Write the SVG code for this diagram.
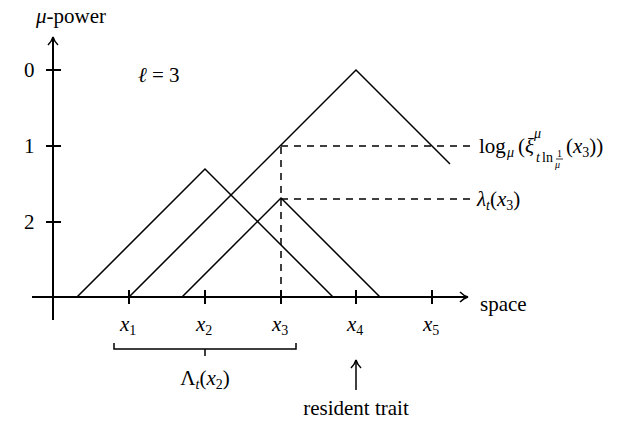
<svg xmlns="http://www.w3.org/2000/svg" width="619" height="423" viewBox="0 0 619 423">
<defs>
<marker id="arr" markerWidth="12" markerHeight="12" refX="10" refY="6" orient="auto" markerUnits="userSpaceOnUse">
<path d="M2,1 Q6,5 10,6 Q6,7 2,11" fill="none" stroke="#000" stroke-width="1.5"/>
</marker>
</defs>
<style>
text{font-family:"Liberation Serif","Times New Roman",serif;font-size:21px;fill:#000}
.i{font-style:italic}
.n{font-style:normal}
.s{font-size:14px}
.ss{font-size:10px}
.ax{stroke:#000;stroke-width:2;fill:none}
.ln{stroke:#000;stroke-width:1.5;fill:none}
.d{stroke:#000;stroke-width:1.5;fill:none;stroke-dasharray:7,6}
</style>
<g id="axes">
<line class="ax" x1="53" y1="320" x2="53" y2="37" marker-end="url(#arr)"/>
<line class="ax" x1="32" y1="297" x2="468" y2="297" marker-end="url(#arr)"/>
<path class="ax" d="M46,70 H61 M46,146 H61 M46,222 H61 M129,290 V304 M205,290 V304 M281,290 V304 M356,290 V304 M432,290 V304"/>
</g>
<g id="axis-labels">
<text x="36" y="23"><tspan class="i">μ</tspan>-power</text>
<text x="24" y="77">0</text>
<text x="24" y="153">1</text>
<text x="24" y="229">2</text>
<text x="480" y="311">space</text>
<text x="138" y="82"><tspan class="i">ℓ</tspan> = 3</text>
<text x="120" y="331" class="i">x<tspan class="s n" dy="4">1</tspan></text>
<text x="196" y="331" class="i">x<tspan class="s n" dy="4">2</tspan></text>
<text x="272" y="331" class="i">x<tspan class="s n" dy="4">3</tspan></text>
<text x="347" y="331" class="i">x<tspan class="s n" dy="4">4</tspan></text>
<text x="423" y="331" class="i">x<tspan class="s n" dy="4">5</tspan></text>
</g>
<g id="curves">
<polyline class="ln" points="129,297 356,70 450,164"/>
<polyline class="ln" points="77,297 205,169 333,297"/>
<polyline class="ln" points="182,297 281,198 380,297"/>
</g>
<g id="connectors">
<path class="d" d="M281,297 V146 M281,146 H472 M281,199 H472"/>
<path class="ln" d="M114,343 V349 H296 V343 M205,349 V356"/>
<line class="ln" x1="356" y1="390" x2="356" y2="360" marker-end="url(#arr)"/>
</g>
<g id="labels">
<text x="479" y="153">log</text>
<text x="507" y="157" class="s i">μ</text>
<text x="518" y="153">(</text>
<text x="525" y="153" class="i">ξ</text>
<text x="534" y="138" class="s i">μ</text>
<text x="536" y="162" class="s i">t</text>
<text x="542" y="162" class="s">ln</text>
<text x="557" y="157" class="ss">1</text>
<line x1="556" y1="159" x2="563" y2="159" stroke="#000" stroke-width="0.8"/>
<text x="555" y="168" class="ss i">μ</text>
<text x="566" y="153">(<tspan class="i">x</tspan><tspan class="s" dy="4">3</tspan><tspan dy="-4">))</tspan></text>
<text x="477" y="206"><tspan class="i">λ</tspan><tspan class="s i" dy="4">t</tspan><tspan dy="-4">(</tspan><tspan class="i">x</tspan><tspan class="s" dy="4">3</tspan><tspan dy="-4">)</tspan></text>
<text x="205" y="385" text-anchor="middle">Λ<tspan class="s i" dy="4">t</tspan><tspan dy="-4">(</tspan><tspan class="i">x</tspan><tspan class="s" dy="4">2</tspan><tspan dy="-4">)</tspan></text>
<text x="356" y="415" text-anchor="middle">resident trait</text>
</g>
</svg>
